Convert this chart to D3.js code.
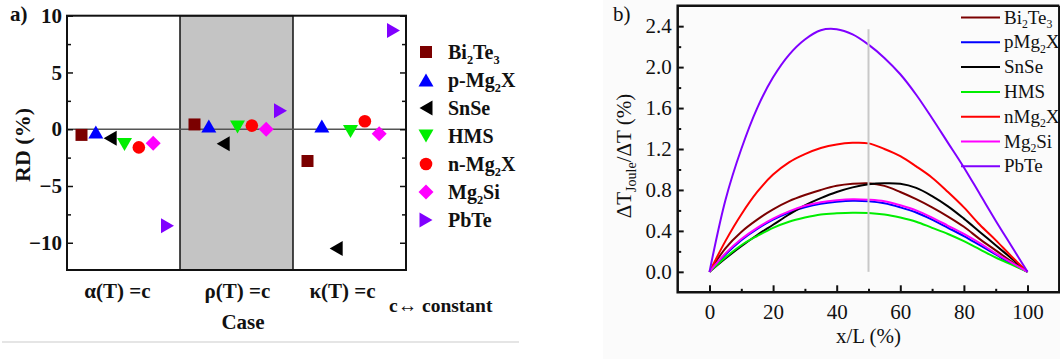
<!DOCTYPE html>
<html>
<head>
<meta charset="utf-8">
<script src="https://cdn.jsdelivr.net/npm/d3@7/dist/d3.min.js"></script>
<style>
  html, body { margin: 0; padding: 0; background: #fff; }
  svg { display: block; }
</style>
</head>
<body>
<svg id="fig" width="1060" height="359"></svg>
<script>
// ---------- panel a: relative deviation per case ----------
const cases = ["α(T) =c", "ρ(T) =c", "κ(T) =c"];
const materialsA = ["Bi2Te3", "p-Mg2X", "SnSe", "HMS", "n-Mg2X", "Mg2Si", "PbTe"];
const rdBi2Te3 = [-0.5, 0.42, -2.8];
const rdPMg2X  = [-0.25, 0.28, 0.28];
const rdSnSe   = [-0.8, -1.27, -10.5];
const rdHMS    = [-1.35, 0.2, -0.2];
const rdNMg2X  = [-1.6, 0.32, 0.7];
const rdMg2Si  = [-1.24, 0.0, -0.4];
const rdPbTe   = [-8.5, 1.63, 8.7];
const rdTicks = [-10, -5, 0, 5, 10];

// ---------- panel b: Joule heating profile ----------
const xPos = [0, 5, 10, 15, 20, 25, 30, 35, 40, 45, 50, 55, 60, 65, 70, 75, 80, 85, 90, 95, 100];
const jBi2Te3 = [0, 0.23, 0.39, 0.51, 0.61, 0.69, 0.75, 0.8, 0.84, 0.86, 0.865, 0.84, 0.78, 0.71, 0.63, 0.54, 0.44, 0.32, 0.21, 0.1, 0];
const jPMg2X  = [0, 0.17, 0.31, 0.42, 0.51, 0.58, 0.63, 0.665, 0.685, 0.695, 0.69, 0.67, 0.63, 0.58, 0.51, 0.43, 0.35, 0.26, 0.17, 0.08, 0];
const jSnSe   = [0, 0.13, 0.25, 0.36, 0.46, 0.56, 0.65, 0.72, 0.78, 0.825, 0.855, 0.865, 0.86, 0.82, 0.74, 0.64, 0.52, 0.39, 0.26, 0.13, 0];
const jHMS    = [0, 0.14, 0.26, 0.35, 0.43, 0.49, 0.53, 0.56, 0.572, 0.578, 0.575, 0.56, 0.53, 0.49, 0.43, 0.37, 0.3, 0.22, 0.14, 0.07, 0];
const jNMg2X  = [0, 0.3, 0.56, 0.78, 0.95, 1.07, 1.15, 1.21, 1.245, 1.26, 1.255, 1.2, 1.13, 1.03, 0.92, 0.78, 0.63, 0.46, 0.31, 0.15, 0];
const jMg2Si  = [0, 0.18, 0.32, 0.43, 0.52, 0.59, 0.645, 0.68, 0.7, 0.71, 0.705, 0.69, 0.65, 0.6, 0.53, 0.45, 0.37, 0.28, 0.18, 0.09, 0];
const jPbTe   = [0, 0.7, 1.2, 1.6, 1.9, 2.12, 2.27, 2.36, 2.37, 2.32, 2.22, 2.09, 1.93, 1.73, 1.5, 1.26, 1.02, 0.76, 0.5, 0.25, 0];
const materialsB = ["Bi2Te3", "pMg2X", "SnSe", "HMS", "nMg2X", "Mg2Si", "PbTe"];
const xTicks = [0, 20, 40, 60, 80, 100];
const yTicksB = [0, 0.4, 0.8, 1.2, 1.6, 2.0, 2.4];
const midLine = 50;

const colors = ["#7b0000", "#0000ff", "#000000", "#00ee00", "#ff0000", "#ff00ff", "#8000ff"];
const shapes = ["square", "up", "left", "down", "circle", "diamond", "right"];

const SERIF = '"Liberation Serif", "Times New Roman", Times, serif';
const svg = d3.select("#fig");

// text with every digit set as a subscript
function richLabel(sel, str, size) {
  const parts = str.match(/\d+|\D+/g);
  let lowered = false;
  parts.forEach(p => {
    if (/^\d+$/.test(p)) {
      sel.append("tspan").style("font-size", (size * 0.62) + "px").attr("dy", size * 0.25).text(p);
      lowered = true;
    } else {
      const t = sel.append("tspan").style("font-size", size + "px").text(p);
      if (lowered) { t.attr("dy", -size * 0.25); lowered = false; }
    }
  });
}

// marker outlines, centred on their bounding box
function markerPath(shape) {
  const p = d3.path();
  switch (shape) {
    case "square": p.rect(-6, -6, 12, 12); break;
    case "up":    p.moveTo(0, -6.5); p.lineTo(7.5, 6.5); p.lineTo(-7.5, 6.5); p.closePath(); break;
    case "down":  p.moveTo(0, 6.5); p.lineTo(7.5, -6.5); p.lineTo(-7.5, -6.5); p.closePath(); break;
    case "left":  p.moveTo(-6.5, 0); p.lineTo(6.5, -7.5); p.lineTo(6.5, 7.5); p.closePath(); break;
    case "right": p.moveTo(6.5, 0); p.lineTo(-6.5, -7.5); p.lineTo(-6.5, 7.5); p.closePath(); break;
    case "circle": p.arc(0, 0, 6.3, 0, 2 * Math.PI); break;
    case "diamond": p.moveTo(0, -7.5); p.lineTo(7.5, 0); p.lineTo(0, 7.5); p.lineTo(-7.5, 0); p.closePath(); break;
  }
  return p.toString();
}

// ================= panel a =================
const ga = svg.append("g");
const ax = d3.scaleLinear().domain([0, 3]).range([67, 406]);
const ay = d3.scaleLinear().domain([-12.4, 10]).range([270, 15.7]);
const inner = d3.scalePoint().domain(materialsA).range([-42, 44]);

// separator under panel a
ga.append("line").attr("x1", 2).attr("x2", 519).attr("y1", 342).attr("y2", 342)
  .attr("stroke", "#dcdcdc").attr("stroke-width", 1.5);

// shaded middle case
ga.append("rect").attr("x", ax(1)).attr("y", ay(10)).attr("width", ax(2) - ax(1)).attr("height", ay(-12.4) - ay(10))
  .attr("fill", "#c4c4c4").attr("stroke", "#111").attr("stroke-width", 1.5);

// zero line
ga.append("line").attr("x1", ax(0)).attr("x2", ax(3)).attr("y1", ay(0)).attr("y2", ay(0))
  .attr("stroke", "#555").attr("stroke-width", 1.3);

// axes with inward ticks
const aMinor = [-7.5, -2.5, 2.5, 7.5];
const yl = ga.append("g").attr("transform", `translate(${ax(0)},0)`)
  .call(d3.axisLeft(ay).tickValues(rdTicks).tickSize(-6).tickPadding(5).tickFormat(d3.format("d")));
yl.selectAll("text").style("font-size", "21px");
ga.append("g").attr("transform", `translate(${ax(0)},0)`)
  .call(d3.axisLeft(ay).tickValues(aMinor).tickSize(-4).tickFormat(""));
ga.append("g").attr("transform", `translate(${ax(3)},0)`)
  .call(d3.axisRight(ay).tickValues(rdTicks).tickSize(-6).tickFormat(""));
ga.append("g").attr("transform", `translate(${ax(3)},0)`)
  .call(d3.axisRight(ay).tickValues(aMinor).tickSize(-4).tickFormat(""));
ga.selectAll(".domain").remove();
ga.selectAll(".tick line").attr("stroke", "#111").attr("stroke-width", 1.5);

// frame
ga.append("rect").attr("x", ax(0)).attr("y", ay(10)).attr("width", ax(3) - ax(0)).attr("height", ay(-12.4) - ay(10))
  .attr("fill", "none").attr("stroke", "#111").attr("stroke-width", 2);

// markers
const rdSeries = [rdBi2Te3, rdPMg2X, rdSnSe, rdHMS, rdNMg2X, rdMg2Si, rdPbTe];
rdSeries.forEach((vals, i) => {
  ga.append("g").selectAll("path").data(vals).join("path")
    .attr("d", markerPath(shapes[i]))
    .attr("transform", (v, c) => `translate(${ax(c + 0.5) + inner(materialsA[i])},${ay(v)})`)
    .attr("fill", colors[i]);
});

// case labels
const caseNudge = [-6, 1, -7];
ga.selectAll("text.case").data(cases).join("text").attr("class", "case")
  .attr("x", (d, i) => ax(i + 0.5) + caseNudge[i]).attr("y", 298)
  .attr("text-anchor", "middle").style("font-size", "21px").text(d => d);
ga.append("text").attr("x", 243).attr("y", 329).attr("text-anchor", "middle")
  .style("font-size", "21px").text("Case");
ga.append("text").attr("x", 389).attr("y", 312).style("font-size", "19.5px").text("c↔ constant");
ga.append("text").attr("transform", "translate(30,145) rotate(-90)").attr("text-anchor", "middle")
  .style("font-size", "22px").text("RD (%)");
ga.append("text").attr("x", 10).attr("y", 21).style("font-size", "21px").text("a)");

// legend a
materialsA.forEach((m, i) => {
  const yy = 52 + i * 28;
  ga.append("path").attr("d", markerPath(shapes[i])).attr("transform", `translate(426,${yy})`).attr("fill", colors[i]);
  const t = ga.append("text").attr("x", 448).attr("y", yy + 7);
  richLabel(t, m, 20);
});
ga.selectAll("text").style("font-family", SERIF).style("font-weight", "bold").attr("fill", "#111");

// ================= panel b =================
const gb = svg.append("g");
gb.append("rect").attr("x", 603).attr("y", 0).attr("width", 457).attr("height", 359).attr("fill", "#fbfbfb");

const bx = d3.scaleLinear().domain([-10, 110]).range([677.7, 1059.3]);
const by = d3.scaleLinear().domain([-0.2, 2.6]).range([292.3, 5.7]);

const xa = gb.append("g").attr("transform", `translate(0,${by(-0.2)})`)
  .call(d3.axisBottom(bx).tickValues(xTicks).tickSize(-7).tickPadding(12).tickFormat(d3.format("d")));
xa.selectAll("text").style("font-size", "21px");
gb.append("g").attr("transform", `translate(0,${by(-0.2)})`)
  .call(d3.axisBottom(bx).tickValues([10, 30, 50, 70, 90]).tickSize(-3.5).tickFormat(""));
const ya = gb.append("g").attr("transform", `translate(${bx(-10)},0)`)
  .call(d3.axisLeft(by).tickValues(yTicksB).tickSize(-6).tickPadding(6).tickFormat(d3.format(".1f")));
ya.selectAll("text").style("font-size", "21px");
gb.append("g").attr("transform", `translate(${bx(-10)},0)`)
  .call(d3.axisLeft(by).tickValues([0.2, 0.6, 1.0, 1.4, 1.8, 2.2]).tickSize(-3.5).tickFormat(""));
gb.selectAll(".domain").remove();
gb.selectAll(".tick line").attr("stroke", "#111").attr("stroke-width", 2);

// frame
gb.append("path")
  .attr("d", `M${bx(110)},${by(2.6)}H${bx(-10)}V${by(-0.2)}H${bx(110)}V${by(2.6)}`)
  .attr("fill", "none").attr("stroke", "#111").attr("stroke-width", 2.5);

// curves
const jSeries = [jBi2Te3, jPMg2X, jSnSe, jHMS, jNMg2X, jMg2Si, jPbTe];
const line = d3.line().x(d => bx(d[0])).y(d => by(d[1])).curve(d3.curveCatmullRom.alpha(0.5));
jSeries.forEach((vals, i) => {
  gb.append("path").datum(xPos.map((x, k) => [x, vals[k]]))
    .attr("d", line).attr("fill", "none").attr("stroke", colors[i]).attr("stroke-width", 2);
});

// mid-length marker line
gb.append("line").attr("x1", bx(midLine)).attr("x2", bx(midLine)).attr("y1", by(0)).attr("y2", by(2.37))
  .attr("stroke", "#c8c8c8").attr("stroke-width", 2);

// titles
gb.append("text").attr("x", bx(50)).attr("y", 343).attr("text-anchor", "middle")
  .style("font-size", "21px").text("x/L (%)");
const yt = gb.append("text").attr("transform", "translate(631,156) rotate(-90)").attr("text-anchor", "middle");
yt.append("tspan").style("font-size", "21px").text("ΔT");
yt.append("tspan").style("font-size", "14px").attr("dy", 5).text("Joule");
yt.append("tspan").style("font-size", "21px").attr("dy", -5).text("/ΔT (%)");
gb.append("text").attr("x", 613).attr("y", 21).style("font-size", "21px").text("b)");

// legend b
materialsB.forEach((m, i) => {
  const yy = 17.5 + i * 24.8;
  gb.append("line").attr("x1", 961).attr("x2", 1000).attr("y1", yy).attr("y2", yy)
    .attr("stroke", colors[i]).attr("stroke-width", 2);
  const t = gb.append("text").attr("x", 1004).attr("y", yy + 6);
  richLabel(t, m, 19);
});
gb.selectAll("text").style("font-family", SERIF).style("font-weight", "normal").attr("fill", "#111");
</script>
</body>
</html>
